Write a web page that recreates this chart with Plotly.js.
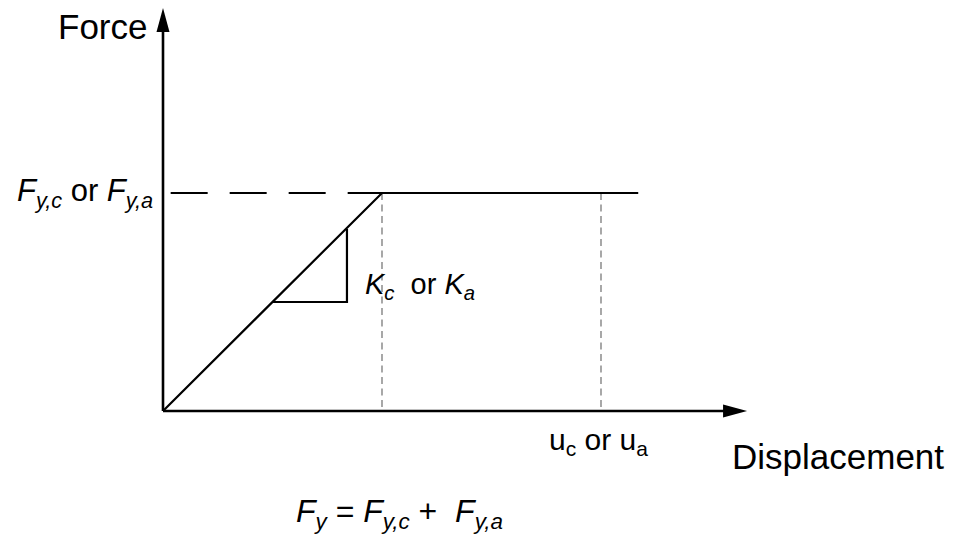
<!DOCTYPE html>
<html>
<head>
<meta charset="utf-8">
<script src="https://cdn.plot.ly/plotly-3.0.1.min.js"></script>
<style>
  html, body { margin: 0; padding: 0; background: #fff; }
  #chart { width: 956px; height: 539px; }
</style>
</head>
<body>
<div id="chart"></div>
<script>
// idealised elastic - perfectly plastic force/displacement law (normalised units)
const curveDisp = [0, 1, 2.17];
const curveForce = [0, 1, 1];
const yieldDisp = 1;
const ultDisp = 2.0;
const yieldForce = 1;
const dashStart = 0.035;
// stiffness triangle
const triDisp = [0.5, 0.84, 0.84];
const triForce = [0.5, 0.5, 0.835];
// axis extents (arrow tips)
const xAxisEnd = 2.667;
const yAxisEnd = 1.849;

const FONT = "Liberation Sans, Arial, sans-serif";
const black = "#000000";
const grey = "#6e6e6e";

const traces = [
  {
    type: "scatter", mode: "lines",
    x: [dashStart, yieldDisp], y: [yieldForce, yieldForce],
    line: { color: black, width: 2, dash: "37px,22px" },
    hoverinfo: "skip"
  },
  {
    type: "scatter", mode: "lines",
    x: [yieldDisp, yieldDisp], y: [yieldForce, 0],
    line: { color: grey, width: 1.2, dash: "7px,4.5px" },
    hoverinfo: "skip"
  },
  {
    type: "scatter", mode: "lines",
    x: [ultDisp, ultDisp], y: [yieldForce, 0],
    line: { color: grey, width: 1.2, dash: "7px,4.5px" },
    hoverinfo: "skip"
  },
  {
    type: "scatter", mode: "lines",
    x: curveDisp, y: curveForce,
    line: { color: black, width: 2.2 },
    hoverinfo: "skip"
  },
  {
    type: "scatter", mode: "lines",
    x: triDisp, y: triForce,
    line: { color: black, width: 2.2 },
    hoverinfo: "skip"
  }
];

const shapes = [
  { type: "line", x0: 0, y0: 0, x1: xAxisEnd - 0.08, y1: 0, line: { color: black, width: 2.6 } },
  { type: "line", x0: 0, y0: 0, x1: 0, y1: yAxisEnd - 0.08, line: { color: black, width: 2.6 } },
  {
    type: "path", xsizemode: "pixel", ysizemode: "pixel",
    xanchor: xAxisEnd, yanchor: 0,
    path: "M0,0 L-24,-6.5 L-24,6.5 Z",
    fillcolor: black, line: { width: 0 }
  },
  {
    type: "path", xsizemode: "pixel", ysizemode: "pixel",
    xanchor: 0, yanchor: yAxisEnd,
    path: "M0,0 L-6.5,-24 L6.5,-24 Z",
    fillcolor: black, line: { width: 0 }
  }
];

function label(text, x, y, size, xanchor) {
  return {
    text: text, x: x, y: y, xref: "x", yref: "y",
    xanchor: xanchor || "center", yanchor: "middle",
    showarrow: false,
    font: { family: FONT, size: size, color: black }
  };
}

const annotations = [
  label("Force", -0.066, 1.765, 35, "right"),
  label("<i>F</i><sub><i>y,c</i></sub> or <i>F</i><sub><i>y,a</i></sub>", -0.037, 1.0, 31, "right"),
  label("<i>K</i><sub><i>c</i></sub>  or <i>K</i><sub><i>a</i></sub>", 0.913, 0.573, 29, "left"),
  label("u<sub>c</sub> or u<sub>a</sub>", ultDisp - 0.01, -0.14, 30),
  label("Displacement", 3.082, -0.21, 35),
  label("<i>F</i><sub><i>y</i></sub> = <i>F</i><sub><i>y,c</i></sub> +  <i>F</i><sub><i>y,a</i></sub>", 1.082, -0.47, 32)
];

const layout = {
  width: 956, height: 539,
  margin: { l: 0, r: 0, t: 0, b: 0 },
  paper_bgcolor: "#ffffff", plot_bgcolor: "#ffffff",
  showlegend: false,
  xaxis: { range: [-163 / 219, 793 / 219], visible: false, fixedrange: true },
  yaxis: { range: [-128 / 218, 411 / 218], visible: false, fixedrange: true },
  shapes: shapes,
  annotations: annotations
};

Plotly.newPlot("chart", traces, layout, { displayModeBar: false, staticPlot: true });
</script>
</body>
</html>
